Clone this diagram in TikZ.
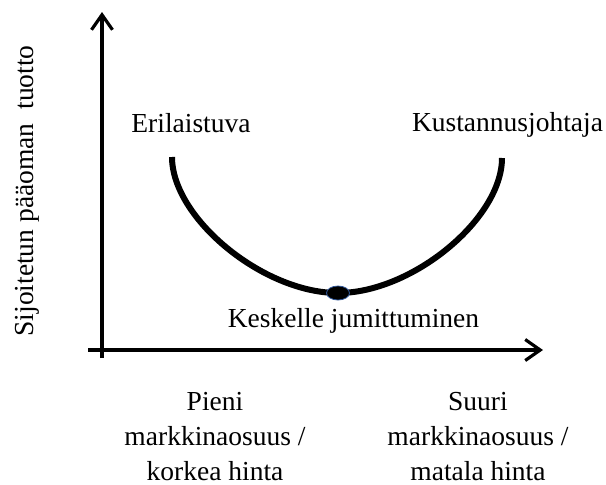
\documentclass[tikz,border=0pt]{standalone}
\usepackage{fontspec}
\setmainfont{Liberation Serif}
\usetikzlibrary{arrows.meta,shapes.geometric}
\definecolor{dotblue}{RGB}{47,85,151}
\begin{document}
\begin{tikzpicture}[x=1pt,y=-1pt,
  axis/.style={line width=3.5pt,-{Straight Barb[length=15pt,width=21pt,line width=3.2pt]}},
  lbl/.style={inner sep=0pt,font=\fontsize{27.5}{35}\selectfont,anchor=base},
  ucurve/.style={line width=6pt},
  dotstyle/.style={ellipse,minimum width=23pt,minimum height=14pt,inner sep=0pt,fill=black,draw=dotblue,line width=0.8pt}]
\useasboundingbox (0,0) rectangle (606,485);
\coordinate (ytop) at (102,12);
\coordinate (ybot) at (102,358);
\coordinate (xleft) at (88,350);
\coordinate (xright) at (543,350);
\draw[axis] (ybot) -- (ytop);
\draw[axis] (xleft) -- (xright);
\coordinate (cl) at (172,157);
\coordinate (cr) at (502,158);
\coordinate (cb) at (338,293);
\draw[ucurve] (cl) .. controls (172,218) and (263,293) .. (cb)
  .. controls (412,293) and (502,219) .. (cr);
\node[dotstyle] (dot) at (cb) {};
\node[lbl] (eri) at (191,132) {Erilaistuva};
\node[lbl] (kus) at (507.5,131) {Kustannusjohtaja};
\node[lbl] (kes) at (353.5,327) {Keskelle jumittuminen};
\node[lbl,rotate=90] (ylab) at (34,191) {Sijoitetun pääoman\ \ tuotto};
\node[lbl,align=center] (pieni) at (215,480) {Pieni\\markkinaosuus /\\korkea hinta};
\node[lbl,align=center] (suuri) at (478,480) {Suuri\\markkinaosuus /\\matala hinta};
\end{tikzpicture}
\end{document}
